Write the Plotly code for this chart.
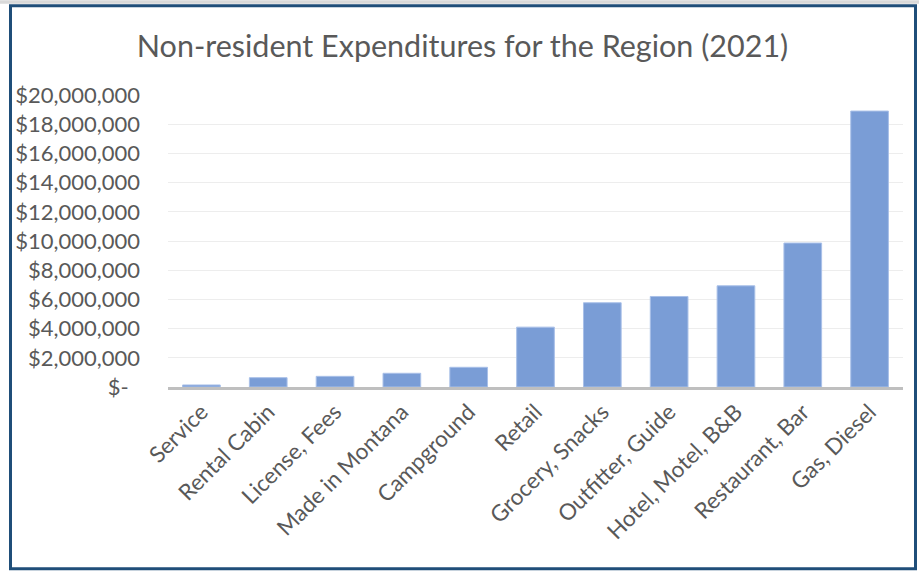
import plotly.graph_objects as go

# Non-resident spending by category, 2021 (US dollars)
categories = [
    "Service", "Rental Cabin", "License, Fees", "Made in Montana", "Campground",
    "Retail", "Grocery, Snacks", "Outfitter, Guide", "Hotel, Motel, B&B",
    "Restaurant, Bar", "Gas, Diesel",
]
expenditures = [
    140000, 640000, 730000, 940000, 1350000,
    4100000, 5770000, 6200000, 6930000, 9860000, 18900000,
]
tick_values = [0, 2000000, 4000000, 6000000, 8000000, 10000000,
               12000000, 14000000, 16000000, 18000000, 20000000]
tick_labels = ["$-\u00a0\u00a0", "$2,000,000", "$4,000,000", "$6,000,000", "$8,000,000",
               "$10,000,000", "$12,000,000", "$14,000,000", "$16,000,000",
               "$18,000,000", "$20,000,000"]

W, H = 919, 572
L, R, T, B = 168, 16, 95, 184.5
pw, ph = W - L - R, H - T - B

def px_x(x):
    return (x - L) / pw

def px_y(y):
    return 1 - (y - T) / ph

FONT = "Lato, 'Open Sans', sans-serif"
TEXT = "#595959"

fig = go.Figure(
    go.Bar(
        x=categories,
        y=expenditures,
        marker=dict(color="#7A9DD6", line=dict(color="#A9C0E8", width=1)),
        hoverinfo="x+y",
    )
)

fig.update_layout(
    width=W,
    height=H,
    margin=dict(l=L, r=R, t=T, b=B),
    paper_bgcolor="white",
    plot_bgcolor="white",
    bargap=0.436,
    showlegend=False,
    font=dict(family=FONT, color=TEXT, size=22),
    title=dict(
        text="Non-resident Expenditures for the Region (2021)",
        x=462.5 / W, xanchor="center", xref="container",
        y=1 - 46 / H, yanchor="middle", yref="container",
        font=dict(family=FONT, size=30.5, color=TEXT),
    ),
    xaxis=dict(
        tickangle=-45,
        showgrid=False,
        showline=True,
        linecolor="#BFBFBF",
        linewidth=3,
        ticks="",
        tickfont=dict(size=22.5, color=TEXT),
        fixedrange=True,
    ),
    yaxis=dict(
        range=[0, 20000000],
        tickvals=tick_values,
        ticktext=tick_labels,
        showgrid=True,
        gridcolor="#EDEDED",
        gridwidth=1,
        zeroline=False,
        showline=False,
        ticks="",
        ticklabelstandoff=27,
        tickfont=dict(size=22, color=TEXT),
        fixedrange=True,
    ),
    shapes=[
        # light strip along the top edge
        dict(type="rect", xref="paper", yref="paper",
             x0=px_x(0), x1=px_x(W), y0=px_y(3.5), y1=px_y(0),
             fillcolor="#D9D9D9", line=dict(width=0), layer="above"),
        # dark blue frame around the chart
        dict(type="rect", xref="paper", yref="paper",
             x0=px_x(10.5), x1=px_x(915.5), y0=px_y(569.5), y1=px_y(5.5),
             fillcolor="rgba(0,0,0,0)", line=dict(color="#1F4E79", width=3),
             layer="above"),
    ],
)

fig.write_html("out.html")
